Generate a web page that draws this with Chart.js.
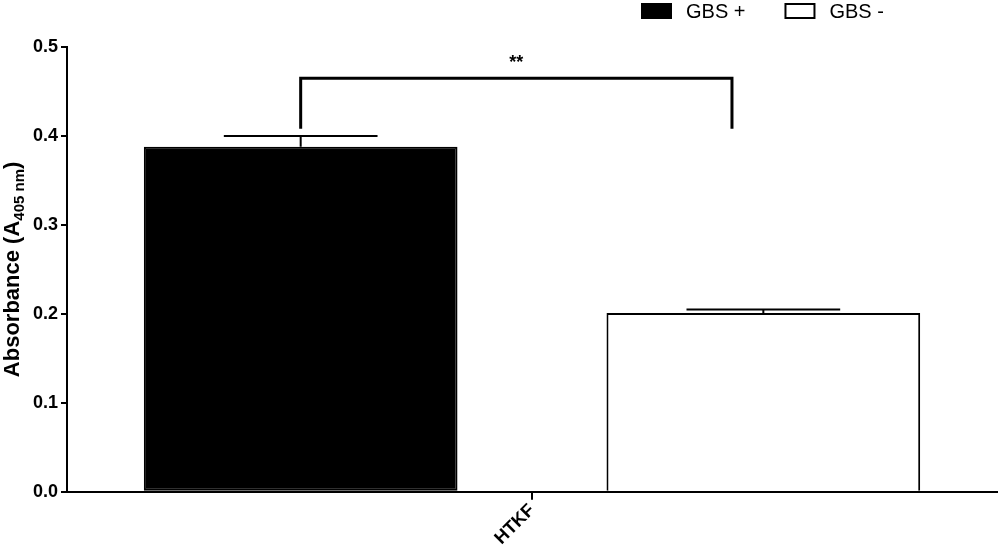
<!DOCTYPE html>
<html>
<head>
<meta charset="utf-8">
<script src="https://cdn.jsdelivr.net/npm/chart.js@4.4.1/dist/chart.umd.min.js"></script>
<style>
  html, body { margin: 0; padding: 0; background: #fff; }
  #wrap { width: 1000px; height: 552px; position: relative; }
</style>
</head>
<body>
<div id="wrap"><canvas id="absChart"></canvas></div>
<script>

// data
const categories = ["HTKF"];
const seriesNames = ["GBS +", "GBS -"];
const gbsPos = [0.388];
const gbsNeg = [0.201];
const gbsPosErr = [0.012];
const gbsNegErr = [0.004];
const yTicks = [0.0, 0.1, 0.2, 0.3, 0.4, 0.5];
const sigLabel = "**";
const sigLevels = [0.408, 0.465];   // bracket arm bottom / top

const FONT = "'Liberation Sans', Arial, sans-serif";

// error bars drawn on top of the bars
const errorBars = {
    id: "errorBars",
    afterDatasetsDraw(chart){
        const ctx = chart.ctx;
        const y = chart.scales.y;
        ctx.save();
        ctx.strokeStyle = "#000";
        ctx.lineWidth = 2;
        chart.data.datasets.forEach((ds, i) => {
            const meta = chart.getDatasetMeta(i);
            meta.data.forEach((bar, j) => {
                const top = y.getPixelForValue(ds.data[j] + ds.errors[j]);
                const half = bar.width * 0.245;
                ctx.beginPath();
                ctx.moveTo(bar.x, bar.y);
                ctx.lineTo(bar.x, top);
                ctx.moveTo(bar.x - half, top);
                ctx.lineTo(bar.x + half, top);
                ctx.stroke();
            });
        });
        ctx.restore();
    }
};

// significance bracket + stars
const sigBracket = {
    id: "sigBracket",
    afterDatasetsDraw(chart){
        const ctx = chart.ctx;
        const y = chart.scales.y;
        const b1 = chart.getDatasetMeta(0).data[0];
        const b2 = chart.getDatasetMeta(1).data[0];
        const x1 = b1.x;
        const x2 = b2.x - b2.width * 0.1;
        const yLow = y.getPixelForValue(sigLevels[0]);
        const yTop = y.getPixelForValue(sigLevels[1]);
        ctx.save();
        ctx.strokeStyle = "#000";
        ctx.lineWidth = 3;
        ctx.beginPath();
        ctx.moveTo(x1, yLow);
        ctx.lineTo(x1, yTop);
        ctx.lineTo(x2, yTop);
        ctx.lineTo(x2, yLow);
        ctx.stroke();
        ctx.fillStyle = "#000";
        ctx.font = "bold 18px " + FONT;
        ctx.textAlign = "center";
        ctx.textBaseline = "alphabetic";
        ctx.fillText(sigLabel, (x1 + x2) / 2, yTop - 10);
        ctx.restore();
    }
};

// y title with subscript, and legend at top right
const extras = {
    id: "extras",
    afterDraw(chart){
        const ctx = chart.ctx;
        const area = chart.chartArea;
        ctx.save();
        ctx.fillStyle = "#000";

        // y axis title
        const big = "bold 22px " + FONT;
        const small = "bold 15px " + FONT;
        const parts = [["Absorbance (A", big, 0], ["405 nm", small, 5], [")", big, 0]];
        let total = 0;
        parts.forEach(p => { ctx.font = p[1]; total += ctx.measureText(p[0]).width; });
        ctx.translate(19, (area.top + area.bottom) / 2);
        ctx.rotate(-Math.PI / 2);
        let cx = -total / 2;
        ctx.textBaseline = "alphabetic";
        ctx.textAlign = "left";
        parts.forEach(p => {
            ctx.font = p[1];
            ctx.fillText(p[0], cx, p[2]);
            cx += ctx.measureText(p[0]).width;
        });
        ctx.setTransform(1, 0, 0, 1, 0, 0);

        // legend
        const items = chart.data.datasets;
        let lx = 642;
        ctx.font = "20px " + FONT;
        ctx.textBaseline = "middle";
        items.forEach(ds => {
            ctx.fillStyle = ds.backgroundColor;
            ctx.strokeStyle = "#000";
            ctx.lineWidth = 2;
            ctx.fillRect(lx, 4, 29, 14);
            ctx.strokeRect(lx, 4, 29, 14);
            ctx.fillStyle = "#000";
            ctx.fillText(ds.label, lx + 44, 12);
            lx += 44 + ctx.measureText(ds.label).width + 40;
        });
        ctx.restore();
    }
};

new Chart(document.getElementById("absChart"), {
    type: "bar",
    data: {
        labels: categories,
        datasets: [
            {
                label: seriesNames[0],
                data: gbsPos,
                errors: gbsPosErr,
                backgroundColor: "#000",
                borderColor: "#000",
                borderWidth: 2,
                borderSkipped: false
            },
            {
                label: seriesNames[1],
                data: gbsNeg,
                errors: gbsNegErr,
                backgroundColor: "#fff",
                borderColor: "#000",
                borderWidth: 2,
                borderSkipped: "bottom"
            }
        ]
    },
    options: {
        responsive: true,
        maintainAspectRatio: false,
        animation: false,
        devicePixelRatio: 1,
        categoryPercentage: 0.995,
        barPercentage: 0.678,
        layout: { padding: { left: 30, right: 3, top: 47, bottom: 3 } },
        plugins: {
            legend: { display: false },
            tooltip: { enabled: false }
        },
        scales: {
            x: {
                offset: true,
                grid: {
                    offset: false,
                    drawOnChartArea: false,
                    color: "#000",
                    lineWidth: 2,
                    tickLength: 8
                },
                border: { color: "#000", width: 2 },
                ticks: {
                    color: "#000",
                    padding: 0,
                    maxRotation: 45,
                    minRotation: 45,
                    font: { family: FONT, size: 18, weight: "bold" }
                }
            },
            y: {
                min: 0,
                max: 0.5,
                afterBuildTicks(scale){
                    scale.ticks = yTicks.map(v => ({ value: v }));
                },
                grid: {
                    drawOnChartArea: false,
                    color: "#000",
                    lineWidth: 2,
                    tickLength: 6
                },
                border: { color: "#000", width: 2 },
                ticks: {
                    color: "#000",
                    padding: 3,
                    callback: v => v.toFixed(1),
                    font: { family: FONT, size: 18, weight: "bold" }
                }
            }
        }
    },
    plugins: [errorBars, sigBracket, extras]
});
</script>
</body>
</html>
